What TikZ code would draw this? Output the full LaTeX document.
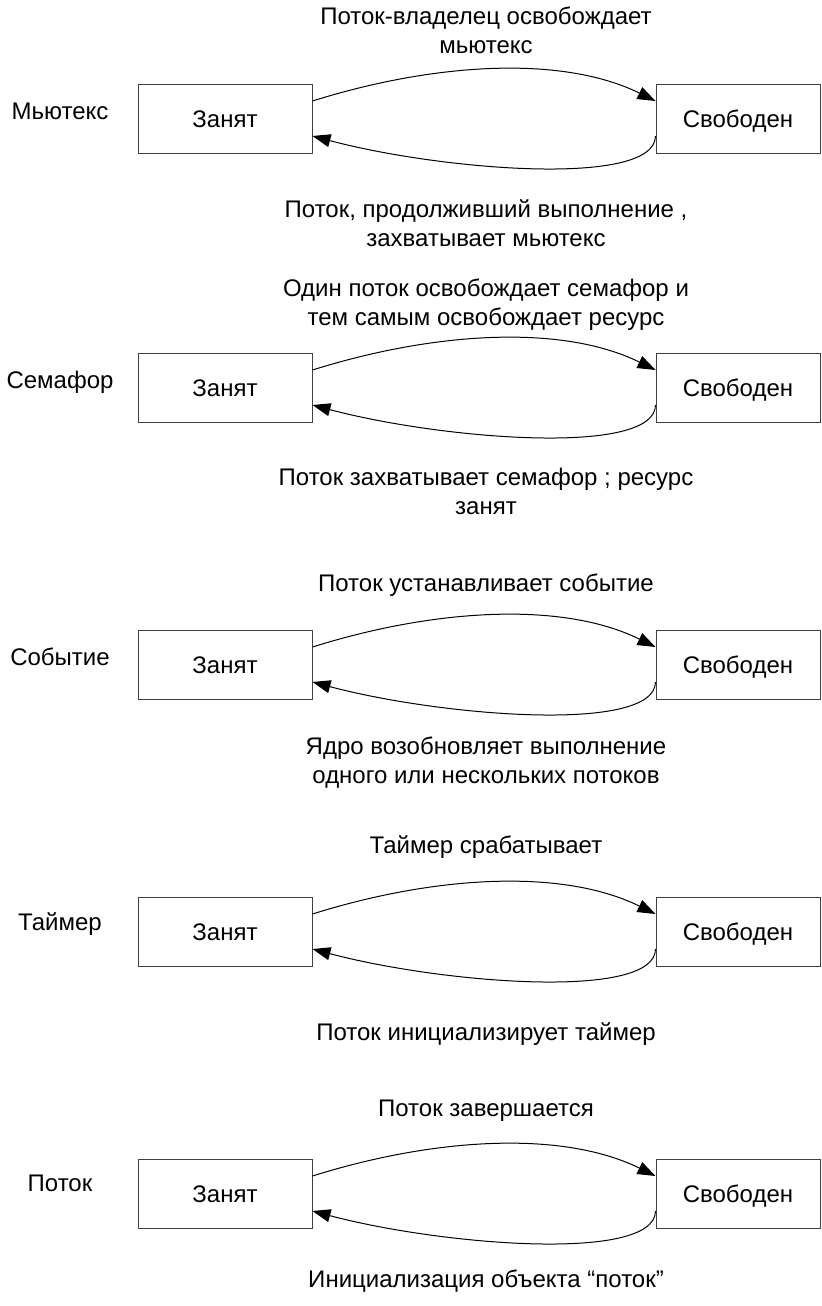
\documentclass[tikz,border=0pt]{standalone}
\usepackage{fontspec}
\setmainfont{Liberation Sans}
\usetikzlibrary{arrows.meta}
\begin{document}
\begin{tikzpicture}[x=0.5pt,y=-0.5pt,
  txt/.style={font=\fontsize{12}{14.5}\selectfont},
  state/.style={txt,draw=black!75,line width=0.5pt,inner sep=0pt,minimum height=34.5pt,text height=8.6pt,text depth=0pt},
  busy/.style={state,minimum width=87pt},
  free/.style={state,minimum width=82pt},
  lbl/.style={txt,align=center,inner sep=0pt,anchor=base},
  side/.style={txt,inner sep=0pt,anchor=base},
  trans/.style={line width=0.5pt,-{Triangle[length=9pt,width=6.5pt]}}]
\useasboundingbox (0,0) rectangle (821,1306);
% ---------- 1: Mutex ----------
\node[busy] (b1) at (225,118.5) {Занят};
\node[free] (f1) at (738,118.5) {Свободен};
\node[side] (s1) at (60,119) {Мьютекс};
\node[lbl] (t1) at (486,54) {Поток-владелец освобождает\\мьютекс};
\node[lbl] (u1) at (486,246) {Поток, продолживший выполнение ,\\захватывает мьютекс};
\draw[trans] ([yshift=8.75pt]b1.east) .. controls (430,64) and (560,54) .. ([yshift=8.75pt]f1.west);
\draw[trans] ([yshift=-8.75pt]f1.west) .. controls (655,188) and (440,170) .. ([yshift=-8.75pt]b1.east);
% ---------- 2: Semaphore ----------
\node[busy] (b2) at (225,387.5) {Занят};
\node[free] (f2) at (738,387.5) {Свободен};
\node[side] (s2) at (60,388) {Семафор};
\node[lbl] (t2) at (486,325) {Один поток освобождает семафор и\\тем самым освобождает ресурс};
\node[lbl] (u2) at (486,514) {Поток захватывает семафор ; ресурс\\занят};
\draw[trans] ([yshift=8.75pt]b2.east) .. controls (430,333) and (560,323) .. ([yshift=8.75pt]f2.west);
\draw[trans] ([yshift=-8.75pt]f2.west) .. controls (655,457) and (440,439) .. ([yshift=-8.75pt]b2.east);
% ---------- 3: Event ----------
\node[busy] (b3) at (225,664.5) {Занят};
\node[free] (f3) at (738,664.5) {Свободен};
\node[side] (s3) at (60,665) {Событие};
\node[lbl] (t3) at (486,591) {Поток устанавливает событие};
\node[lbl] (u3) at (486,783) {Ядро возобновляет выполнение\\одного или нескольких потоков};
\draw[trans] ([yshift=8.75pt]b3.east) .. controls (430,610) and (560,600) .. ([yshift=8.75pt]f3.west);
\draw[trans] ([yshift=-8.75pt]f3.west) .. controls (655,734) and (440,716) .. ([yshift=-8.75pt]b3.east);
% ---------- 4: Timer ----------
\node[busy] (b4) at (225,931.5) {Занят};
\node[free] (f4) at (738,931.5) {Свободен};
\node[side] (s4) at (60,930) {Таймер};
\node[lbl] (t4) at (486,853) {Таймер срабатывает};
\node[lbl] (u4) at (486,1040) {Поток инициализирует таймер};
\draw[trans] ([yshift=8.75pt]b4.east) .. controls (430,877) and (560,867) .. ([yshift=8.75pt]f4.west);
\draw[trans] ([yshift=-8.75pt]f4.west) .. controls (655,1001) and (440,983) .. ([yshift=-8.75pt]b4.east);
% ---------- 5: Thread ----------
\node[busy] (b5) at (225,1193.5) {Занят};
\node[free] (f5) at (738,1193.5) {Свободен};
\node[side] (s5) at (60,1191) {Поток};
\node[lbl] (t5) at (486,1116) {Поток завершается};
\node[lbl] (u5) at (486,1287) {Инициализация объекта “поток”};
\draw[trans] ([yshift=8.75pt]b5.east) .. controls (430,1139) and (560,1129) .. ([yshift=8.75pt]f5.west);
\draw[trans] ([yshift=-8.75pt]f5.west) .. controls (655,1263) and (440,1245) .. ([yshift=-8.75pt]b5.east);
\end{tikzpicture}
\end{document}
